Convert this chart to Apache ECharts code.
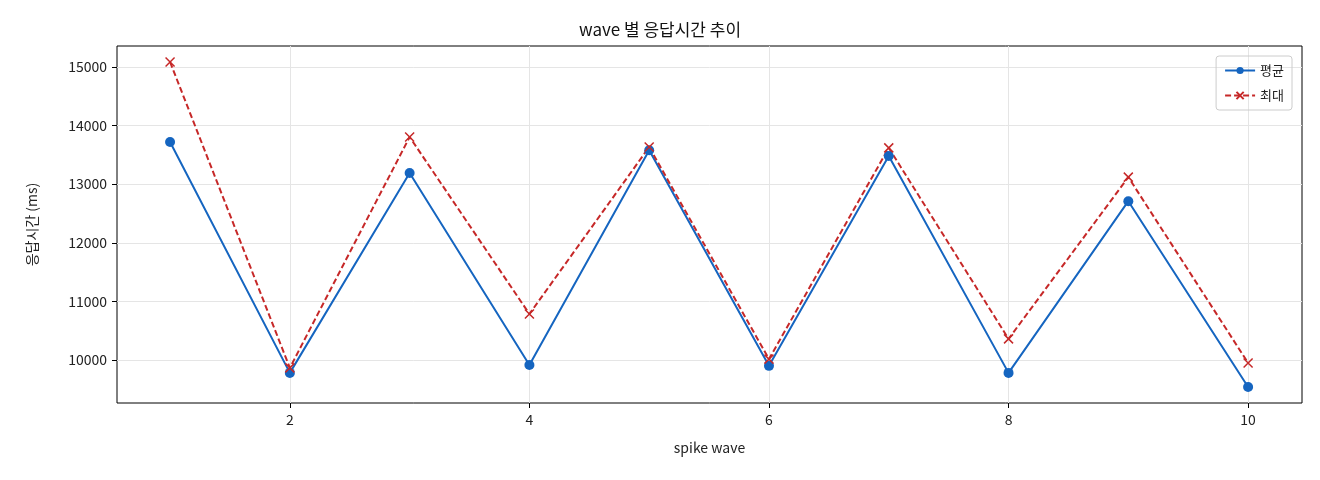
<!DOCTYPE html>
<html><head><meta charset="utf-8">
<script src="https://cdn.jsdelivr.net/npm/echarts@6/dist/echarts.min.js"></script>
<style>html,body{margin:0;padding:0;background:#fff}#c{width:1320px;height:480px}</style>
</head><body><div id="c"></div>
<script>
const waves = [1,2,3,4,5,6,7,8,9,10];
const avgVals = [13720,9780,13190,9915,13580,9900,13480,9780,12710,9540];
const maxVals = [15085,9865,13805,10785,13635,10015,13620,10360,13120,9950];
const xTicks = [2,4,6,8,10];
const yTicks = [10000,11000,12000,13000,14000,15000];
const F = '"Noto Sans CJK KR", "DejaVu Sans", sans-serif';
const chart = echarts.init(document.getElementById('c'));
chart.setOption({
  animation:false,
  textStyle:{fontFamily:F},
  title:{text:'wave 별 응답시간 추이',left:'center',top:16,textStyle:{fontFamily:F,fontSize:17,fontWeight:'normal',color:'#111'}},
  grid:{left:117,right:18,top:46,bottom:77,show:true,borderColor:'#000',borderWidth:1},
  legend:{right:28,top:56,orient:'vertical',itemWidth:30,itemHeight:9,itemGap:12,
    borderColor:'#ccc',borderWidth:1,borderRadius:3,padding:[8,8,8,8],
    textStyle:{fontFamily:F,fontSize:13,color:'#222'},
    data:[{name:'평균'},{name:'최대'}]},
  xAxis:{type:'value',min:0.557,max:10.45,name:'spike wave',nameLocation:'middle',nameGap:38,
    nameTextStyle:{fontFamily:F,fontSize:14,color:'#222'},
    axisLine:{show:false},
    axisTick:{show:true,customValues:xTicks,length:5,lineStyle:{color:'#000'}},
    axisLabel:{customValues:xTicks,fontFamily:F,fontSize:14,color:'#222',margin:10},
    splitLine:{show:true,customValues:xTicks,lineStyle:{color:'#e5e5e5'}}},
  yAxis:{type:'value',min:9266,max:15358,name:'응답시간 (ms)',nameLocation:'middle',nameGap:78,
    nameTextStyle:{fontFamily:F,fontSize:14,color:'#222'},
    axisLine:{show:false},
    axisTick:{show:true,customValues:yTicks,length:5,lineStyle:{color:'#000'}},
    axisLabel:{customValues:yTicks,fontFamily:F,fontSize:14,color:'#222',margin:10,formatter:v=>String(v)},
    splitLine:{show:true,customValues:yTicks,lineStyle:{color:'#e5e5e5'}}},
  series:[
    {name:'평균',type:'line',data:waves.map((w,i)=>[w,avgVals[i]]),symbol:'circle',symbolSize:10,
      lineStyle:{color:'#1565c0',width:2},itemStyle:{color:'#1565c0'}},
    {name:'최대',type:'line',data:waves.map((w,i)=>[w,maxVals[i]]),
      symbol:'path://M0,0L10,10M10,0L0,10',symbolSize:9,
      lineStyle:{color:'#c62828',width:2,type:[6,3]},itemStyle:{color:'none',borderColor:'#c62828',borderWidth:1.5}}
  ]
});
</script></body></html>
